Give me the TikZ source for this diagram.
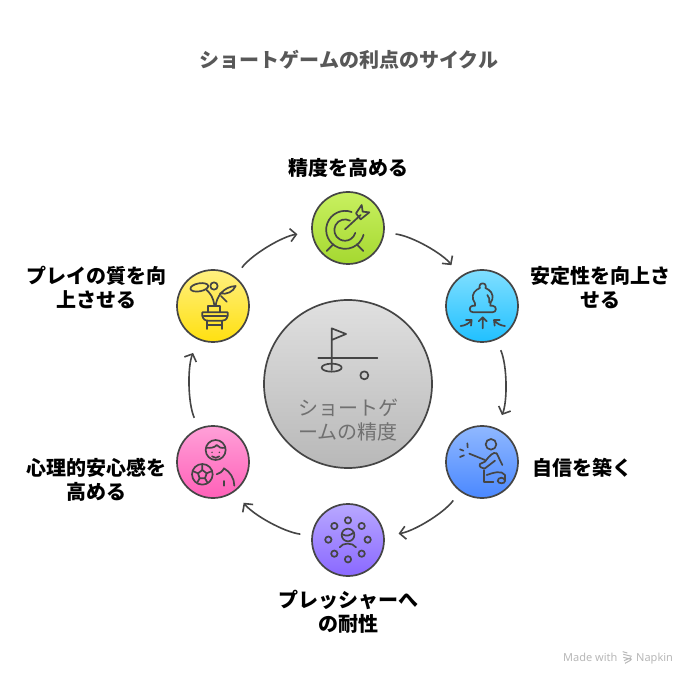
\documentclass[tikz,border=0pt]{standalone}
\usepackage{fontspec}
\setmainfont{Noto Sans CJK JP}
\newfontfamily\latinsmall{Noto Sans}
\usetikzlibrary{arrows.meta}
\definecolor{ink}{HTML}{454545}
\definecolor{ga}{RGB}{200,240,96}\definecolor{gb}{RGB}{165,216,48}
\definecolor{ca}{RGB}{128,223,255}\definecolor{cb}{RGB}{32,192,255}
\definecolor{ba}{RGB}{144,184,255}\definecolor{bb}{RGB}{74,136,255}
\definecolor{pa}{RGB}{184,168,255}\definecolor{pb}{RGB}{138,104,255}
\definecolor{ra}{RGB}{255,160,216}\definecolor{rb}{RGB}{255,96,184}
\definecolor{ya}{RGB}{255,240,128}\definecolor{yb}{RGB}{255,224,16}
\definecolor{ka}{RGB}{224,224,224}\definecolor{kb}{RGB}{184,184,184}
\tikzset{
  disc/.style={circle,draw=ink,line width=1.7pt,minimum size=72pt,inner sep=0pt,outer sep=12pt},
  flow/.style={draw=ink,line width=1.6pt,-{Straight Barb[length=6pt,width=13pt,line width=1.6pt]},bend left=23,looseness=0.65,shorten >=3pt},
  lab/.style={font=\fontsize{20}{24}\selectfont\bfseries,align=center,text=black,inner sep=0pt},
  ico/.style={draw=ink,line width=1.7pt,line cap=round,line join=round},
  zoomA/.style={x=0.33333pt,y=-0.33333pt}
}
\begin{document}
\begin{tikzpicture}[x=1pt,y=-1pt]
\useasboundingbox (0,0) rectangle (696,684);
\fill[white] (0,0) rectangle (696,684);

\node[font=\fontsize{20}{24}\selectfont\bfseries,text=ink!90!white,inner sep=0pt] (title) at (349,60) {ショートゲームの利点のサイクル};

\node[circle,draw=ink,line width=1.7pt,minimum size=168pt,inner sep=0pt,top color=ka,bottom color=kb] (center) at (348,384) {};
\node[disc,top color=ga,bottom color=gb] (n1) at (348,228) {};
\node[disc,top color=ca,bottom color=cb] (n2) at (482,306) {};
\node[disc,top color=ba,bottom color=bb] (n3) at (482,462) {};
\node[disc,top color=pa,bottom color=pb] (n4) at (348,540) {};
\node[disc,top color=ra,bottom color=rb] (n5) at (213,462) {};
\node[disc,top color=ya,bottom color=yb] (n6) at (213,306) {};

\draw[flow] (n1) to (n2);
\draw[flow] (n2) to (n3);
\draw[flow] (n3) to (n4);
\draw[flow] (n4) to (n5);
\draw[flow] (n5) to (n6);
\draw[flow] (n6) to (n1);

\node[lab] (l1) at (348,168) {精度を高める};
\node[lab] (l2) at (600,288) {安定性を向上さ\\せる};
\node[lab] (l3) at (582,468) {自信を築く};
\node[lab] (l4) at (348,612) {プレッシャーへ\\の耐性};
\node[lab] (l5) at (96,480) {心理的安心感を\\高める};
\node[lab] (l6) at (96,288) {プレイの質を向\\上させる};

\node[font=\fontsize{20}{24}\selectfont,align=center,text=black!56,inner sep=0pt] (ct) at (348,420) {ショートゲ\\ームの精度};

% target
\begin{scope}[shift={(270,180)},zoomA,ico]
  \draw (245,96) arc[start angle=-70,end angle=-345,radius=57];
  \draw (240,122) arc[start angle=-62,end angle=-345,radius=32];
  \draw (225,148) -- (272,105);
  \draw (170,213) -- (190,193);
  \draw (280,213) -- (260,193);
  \draw (258,100) -- (275,75) -- (278,95) -- (298,97) -- (272,118) -- cycle;
\end{scope}

% pawn
\begin{scope}[shift={(430,260)},zoomA,ico]
  \draw (158,70) .. controls (148,70) and (147,82) .. (150,84)
        .. controls (135,90) and (125,102) .. (129,118)
        .. controls (131,128) and (140,130) .. (135,137)
        -- (128,137) .. controls (116,139) and (116,157) .. (130,157)
        -- (187,157) .. controls (201,157) and (201,139) .. (188,137)
        -- (181,137) .. controls (176,130) and (185,128) .. (187,118)
        .. controls (191,102) and (181,90) .. (166,84)
        .. controls (169,82) and (168,70) .. (158,70) -- cycle;
  \draw (172,105) .. controls (178,112) and (180,120) .. (178,128);
  \draw (158,205) -- (158,172) (146,184) -- (158,172) -- (170,184);
  \draw (92,198) .. controls (105,197) and (118,190) .. (125,180) (108,180) -- (125,180) -- (123,197);
  \draw (225,198) .. controls (212,197) and (199,190) .. (192,180) (209,180) -- (192,180) -- (194,197);
\end{scope}

% striker
\begin{scope}[shift={(430,420)},zoomA,ico]
  \draw (183,73) circle[radius=16];
  \draw (118,101) -- (165,120);
  \draw (90,88) -- (100,92) (90,111) -- (102,106) (112,70) -- (113,82);
  \draw (217,135) -- (200,100) .. controls (190,95) and (180,105) .. (165,125) -- (150,132) .. controls (145,140) and (155,145) .. (165,145) -- (195,122);
  \draw (163,150) -- (163,185) -- (190,185);
  \draw (170,165) .. controls (190,158) and (215,150) .. (225,165) -- (225,183) .. controls (225,192) and (205,192) .. (203,183) .. controls (203,170) and (225,170) .. (225,183);
\end{scope}

% crowd
\begin{scope}[shift={(300,495)},zoomA,ico]
  \foreach \p in {(144,76),(185,93),(203,134),(185,176),(144,193),(103,176),(85,134),(103,93)}
    \draw \p circle[radius=9.5];
  \draw (144,120) circle[radius=19];
  \draw (127,118) .. controls (140,125) and (150,122) .. (162,112);
  \draw (119,157) .. controls (128,142) and (158,142) .. (168,157);
\end{scope}

% footballer
\begin{scope}[shift={(165,415)},zoomA,ico]
  \draw (152,105) circle[radius=30];
  \draw (123,98) .. controls (135,100) and (150,98) .. (155,90) .. controls (160,98) and (170,100) .. (181,98);
  \fill[ink] (141,112) circle[radius=2.5] (163,112) circle[radius=2.5];
  \draw (141,124) .. controls (147,130) and (158,130) .. (163,124);
  \draw (112,178) circle[radius=31];
  \draw (112,165) -- (125,175) -- (120,190) -- (104,190) -- (99,175) -- cycle;
  \draw (112,165) -- (112,148) (125,175) -- (141,168) (120,190) -- (128,204) (104,190) -- (96,204) (99,175) -- (83,168);
  \draw (155,178) .. controls (165,175) and (172,170) .. (177,160) .. controls (195,170) and (208,190) .. (208,212);
  \draw (178,198) -- (178,212);
\end{scope}

% plant on a stand
\begin{scope}[shift={(165,260)},zoomA,ico]
  \draw[rotate around={10:(103,82)}] (103,82) ellipse[x radius=27,y radius=12];
  \draw (147,78) circle[radius=11];
  \draw (125,90) .. controls (135,100) and (145,110) .. (148,137);
  \draw (152,137) .. controls (155,110) and (175,80) .. (212,78) .. controls (205,95) and (185,105) .. (165,100);
  \draw (168,108) -- (185,125);
  \draw (130,157) -- (130,137) -- (165,137) -- (165,157);
  \draw (112,157) -- (188,157) -- (188,168) .. controls (185,180) and (178,182) .. (172,182) -- (130,182) .. controls (120,182) and (115,178) .. (112,168) -- cycle;
  \draw (116,168) -- (184,168);
  \draw (127,182) -- (127,207) (172,182) -- (172,207) (127,194) -- (172,194);
\end{scope}

% golf icon
\begin{scope}[shift={(260,295)},zoomA,ico]
  \draw (215,225) -- (215,100) -- (258,117) -- (215,135);
  \draw (175,190) -- (352,190);
  \draw (215,218) ellipse[x radius=30,y radius=12];
  \draw (313,241) circle[radius=12];
\end{scope}

% footer
\node[font=\latinsmall\fontsize{11}{13}\selectfont,text=black!28,anchor=base west,inner sep=0pt] (m1) at (563,661) {Made with};
\node[font=\latinsmall\fontsize{11}{13}\selectfont,text=black!28,anchor=base west,inner sep=0pt] (m2) at (636,661) {Napkin};
\begin{scope}[shift={(550,640)},zoomA]
  \draw[black!28,line width=1pt] (218,35) -- (232,39) (220,43) -- (245,49) (220,52) -- (245,58) (222,62) -- (243,53) (225,70) -- (243,60);
\end{scope}
\end{tikzpicture}
\end{document}
